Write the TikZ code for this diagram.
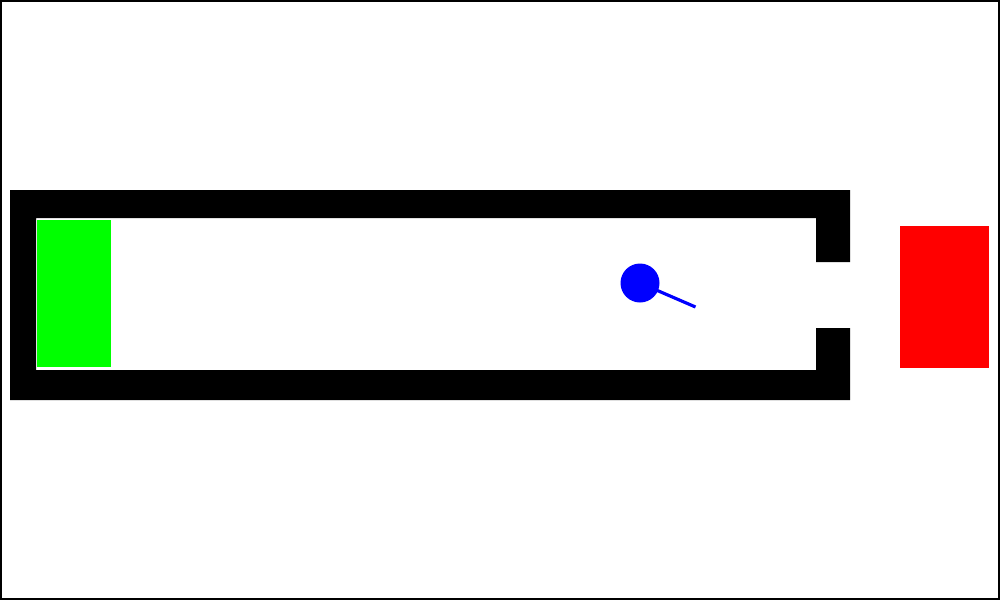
\documentclass[tikz,border=0pt]{standalone}
\begin{document}
\begin{tikzpicture}[x=0.01cm,y=-0.01cm,
  wall/.style={fill=black,draw=none},
  target/.style={fill=red,draw=none},
  goal/.style={fill=green,draw=none},
  ball/.style={fill=blue,draw=none}]
\useasboundingbox (0,0) rectangle (1000,600);
\fill[white] (0,0) rectangle (1000,600);
\draw[line width=0.57pt,black] (1,1) rectangle (999,599);
% walls
\path[wall] (10,190) -- (850,190) -- (850,262) -- (816,262) -- (816,218) -- (36,218)
  -- (36,370) -- (816,370) -- (816,328) -- (850,328) -- (850,400) -- (10,400) -- cycle;
% green block
\path[goal] (37,220) rectangle (111,367);
% red block
\path[target] (900,226) rectangle (989,368);
% ball and stick
\coordinate (bc) at (640,283);
\coordinate (tip) at (695.5,307);
\draw[blue,line width=0.9pt] (bc) -- (tip);
\path[ball] (bc) circle (19.5);
\end{tikzpicture}
\end{document}
